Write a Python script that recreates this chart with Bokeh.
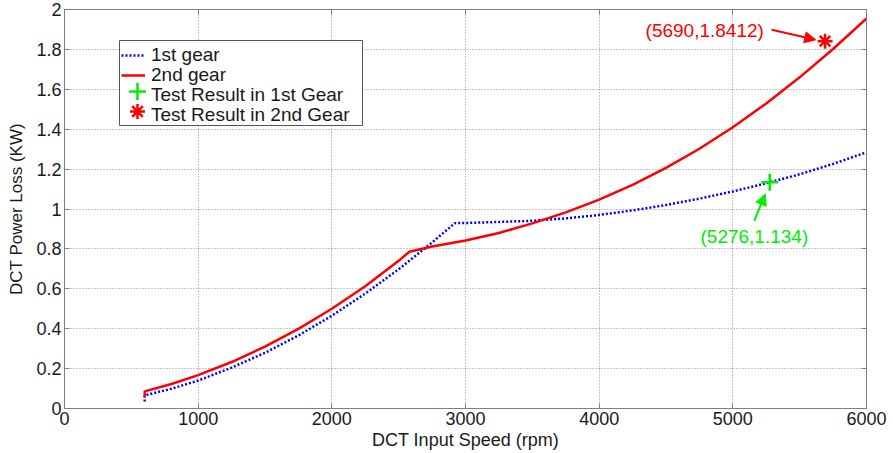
from bokeh.plotting import figure
from bokeh.models import (ColumnDataSource, Legend, LegendItem, LinearAxis, FixedTicker,
                          Label, Arrow, NormalHead, Range1d)
from bokeh.embed import file_html
from bokeh.resources import INLINE

# DCT power loss versus input speed
speed_1st = [600, 600, 800, 1000, 1250, 1500, 1750, 2000, 2250, 2500, 2750, 2920, 3000,
             3250, 3500, 3750, 4000, 4250, 4500, 4750, 5000, 5250, 5500, 5750, 6000]
loss_1st = [0.035, 0.066, 0.099, 0.140, 0.205, 0.279, 0.366, 0.465, 0.576, 0.698, 0.832,
            0.929, 0.930, 0.935, 0.941, 0.953, 0.970, 0.993, 1.020, 1.052, 1.088, 1.129,
            1.174, 1.226, 1.284]

speed_2nd = [600, 600, 800, 1000, 1250, 1500, 1750, 2000, 2250, 2500, 2580, 2750, 3000,
             3250, 3500, 3750, 4000, 4250, 4500, 4750, 5000, 5250, 5500, 5750, 6000]
loss_2nd = [0.057, 0.086, 0.123, 0.167, 0.233, 0.310, 0.399, 0.500, 0.613, 0.740, 0.786,
            0.812, 0.842, 0.880, 0.928, 0.983, 1.047, 1.121, 1.206, 1.302, 1.410, 1.529,
            1.660, 1.802, 1.955]

test_1st_speed = [5276]
test_1st_loss = [1.134]
test_2nd_speed = [5690]
test_2nd_loss = [1.8412]

series_labels = ["1st gear", "2nd gear", "Test Result in 1st Gear", "Test Result in 2nd Gear"]

x_ticks = [0, 1000, 2000, 3000, 4000, 5000, 6000]
y_ticks = [0, 0.2, 0.4, 0.6, 0.8, 1.0, 1.2, 1.4, 1.6, 1.8, 2.0]
y_tick_labels = ["0", "0.2", "0.4", "0.6", "0.8", "1", "1.2", "1.4", "1.6", "1.8", "2"]

FONT = "Liberation Sans"
BLUE = "#0000ff"
RED = "#ff0000"
GREEN = "#00ee00"
AXIS_GRAY = "#808080"

W, H = 893, 453
BORDER_L, BORDER_R, BORDER_T, BORDER_B = 64, 27, 9, 45
FRAME_W = W - BORDER_L - BORDER_R
FRAME_H = H - BORDER_T - BORDER_B

p = figure(width=W, height=H, output_backend="svg", toolbar_location=None,
           x_range=Range1d(0, 6000), y_range=Range1d(0, 2),
           min_border_left=BORDER_L, min_border_right=BORDER_R,
           min_border_top=BORDER_T, min_border_bottom=BORDER_B)
p.background_fill_color = "white"
p.border_fill_color = "white"
p.outline_line_color = AXIS_GRAY
p.outline_line_width = 1

# pixel-space ranges for the legend box and its symbols
p.extra_x_ranges = {"px": Range1d(0, FRAME_W)}
p.extra_y_ranges = {"px": Range1d(0, FRAME_H)}

for ax in (p.xaxis[0], p.yaxis[0]):
    ax.axis_line_color = AXIS_GRAY
    ax.major_tick_line_color = AXIS_GRAY
    ax.major_tick_in = 5
    ax.major_tick_out = 0
    ax.minor_tick_line_color = None
    ax.major_label_text_font = FONT
    ax.major_label_text_font_size = "18px"
    ax.major_label_text_color = "#1a1a1a"
    ax.axis_label_text_font = FONT
    ax.axis_label_text_font_style = "normal"
    ax.axis_label_text_color = "#1a1a1a"

p.xaxis[0].ticker = FixedTicker(ticks=x_ticks)
p.yaxis[0].ticker = FixedTicker(ticks=y_ticks)
p.yaxis[0].major_label_overrides = {t: s for t, s in zip(y_ticks, y_tick_labels)}
p.xaxis[0].axis_label = "DCT Input Speed (rpm)"
p.yaxis[0].axis_label = "DCT Power Loss (KW)"
p.xaxis[0].axis_label_text_font_size = "18px"
p.yaxis[0].axis_label_text_font_size = "17px"
p.xaxis[0].major_label_standoff = 3
p.yaxis[0].major_label_standoff = 3
p.xaxis[0].axis_label_standoff = 2
p.yaxis[0].axis_label_standoff = 7

# inward ticks on the top and right edges of the box
for side, ticks in (("right", y_ticks), ("above", x_ticks)):
    ax = LinearAxis(ticker=FixedTicker(ticks=ticks))
    ax.major_label_text_font_size = "0px"
    ax.major_label_standoff = 0
    ax.major_tick_in = 5
    ax.major_tick_out = 0
    ax.minor_tick_line_color = None
    ax.axis_line_color = AXIS_GRAY
    ax.major_tick_line_color = AXIS_GRAY
    p.add_layout(ax, side)

# dotted grid
p.xgrid.ticker = FixedTicker(ticks=x_ticks)
p.ygrid.ticker = FixedTicker(ticks=y_ticks)
for g in (p.xgrid[0], p.ygrid[0]):
    g.grid_line_color = "#8a8a8a"
    g.grid_line_dash = "1 2"
    g.grid_line_width = 1

src1 = ColumnDataSource(dict(x=speed_1st, y=loss_1st))
src2 = ColumnDataSource(dict(x=speed_2nd, y=loss_2nd))

r1 = p.line("x", "y", source=src1, line_color=BLUE, line_width=2.5, line_dash="2 2")
r2 = p.line("x", "y", source=src2, line_color=RED, line_width=2.5)
r3 = p.scatter(test_1st_speed, test_1st_loss, marker="cross", size=17,
               line_color=GREEN, line_width=2.5)
r4 = p.scatter(test_2nd_speed, test_2nd_loss, marker="asterisk", size=15,
               line_color=RED, line_width=2.5)

# annotations for the two test points
lbl2 = Label(x=4347, y=1.895, text=f"({test_2nd_speed[0]},{test_2nd_loss[0]})",
             text_color=RED, text_font=FONT, text_font_size="19px",
             text_align="left", text_baseline="middle")
lbl1 = Label(x=4758, y=0.862, text=f"({test_1st_speed[0]},{test_1st_loss[0]})",
             text_color=GREEN, text_font=FONT, text_font_size="19px",
             text_align="left", text_baseline="middle")
p.add_layout(lbl2)
p.add_layout(lbl1)

p.add_layout(Arrow(x_start=5290, y_start=1.898, x_end=5620, y_end=1.848,
                   line_color=RED, line_width=2,
                   end=NormalHead(size=11, fill_color=RED, line_color=RED)))
p.add_layout(Arrow(x_start=5160, y_start=0.94, x_end=5243, y_end=1.075,
                   line_color=GREEN, line_width=2,
                   end=NormalHead(size=11, fill_color=GREEN, line_color=GREEN)))

# legend layout (pixels, measured from the frame's bottom-left corner)
BOX_LEFT, BOX_RIGHT, BOX_BOTTOM, BOX_TOP = 55, 298, 283, 368
LEG_X = 57
LEG_PAD, ROW_H, GLYPH_W = 4, 22, 24
FIRST_ROW_CENTER, ROW_PITCH = 357, 20

def row_center(i):
    return FIRST_ROW_CENTER - i * ROW_PITCH

# legend box: white panel with a dark border
p.quad(left=[BOX_LEFT], right=[BOX_RIGHT], bottom=[BOX_BOTTOM], top=[BOX_TOP],
       fill_color="white", line_color="#555555", line_width=1,
       x_range_name="px", y_range_name="px")

# full-size marker symbols for the test-result entries
sym_x = LEG_X + LEG_PAD + GLYPH_W / 2
p.scatter([sym_x], [row_center(2)], marker="cross", size=17, line_color=GREEN,
          line_width=2.5, x_range_name="px", y_range_name="px")
p.scatter([sym_x], [row_center(3)], marker="asterisk", size=15, line_color=RED,
          line_width=2.5, x_range_name="px", y_range_name="px")

# invisible stand-ins so the legend rows for the markers show only their labels
ghost3 = p.scatter(test_1st_speed, test_1st_loss, marker="cross", size=17,
                   line_alpha=0, fill_alpha=0)
ghost4 = p.scatter(test_2nd_speed, test_2nd_loss, marker="asterisk", size=15,
                   line_alpha=0, fill_alpha=0)

# one single-row legend per entry, so each row sits at a fixed pitch
for i, (text, rend) in enumerate(zip(series_labels, [r1, r2, ghost3, ghost4])):
    leg = Legend(items=[LegendItem(label=text, renderers=[rend])],
                 location=(LEG_X, row_center(i) - LEG_PAD - ROW_H / 2))
    leg.label_text_font = FONT
    leg.label_text_font_size = "19px"
    leg.label_text_color = "#1a1a1a"
    leg.label_height = ROW_H
    leg.glyph_height = ROW_H
    leg.glyph_width = GLYPH_W
    leg.label_standoff = 6
    leg.spacing = 0
    leg.padding = LEG_PAD
    leg.margin = 0
    leg.border_line_color = None
    leg.background_fill_alpha = 0
    p.add_layout(leg, "center")

open("out.html", "w").write(file_html(p, INLINE))
